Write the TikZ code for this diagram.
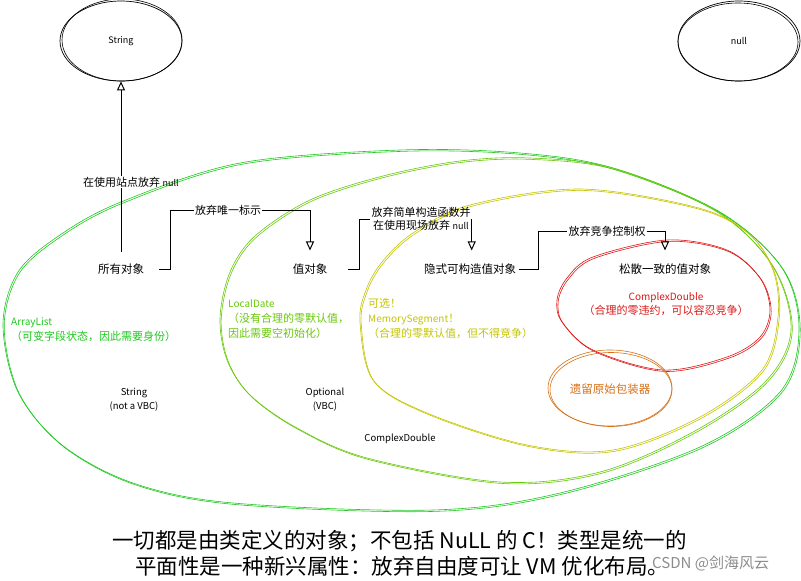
\documentclass[tikz,border=0pt]{standalone}
\usepackage{fontspec}
\setmainfont{Noto Sans CJK SC}
\usetikzlibrary{arrows.meta,shapes.geometric}
\definecolor{gA}{RGB}{30,200,30}
\definecolor{gL}{RGB}{104,200,10}
\definecolor{yM}{RGB}{196,196,0}
\definecolor{rC}{RGB}{222,22,22}
\definecolor{oW}{RGB}{215,112,22}
\newcommand\skcurve[2]{%
  \draw[sk,#1] plot[smooth cycle,tension=0.55] coordinates {#2};
  \draw[sk,#1,shift={(1.2,1.4)}] plot[smooth cycle,tension=0.55] coordinates {#2};}
\begin{document}
\begin{tikzpicture}[x=1pt,y=-1pt,
  sk/.style={line width=0.6pt},
  txt/.style={font=\fontsize{11.5}{13}\selectfont, inner sep=1pt},
  lbl/.style={font=\fontsize{11}{12.5}\selectfont, inner sep=1pt, align=center},
  hw/.style={font=\fontsize{9.5}{14}\selectfont, inner sep=1pt, align=center},
  ctx/.style={font=\fontsize{11}{15}\selectfont, inner sep=1pt, align=left, anchor=west},
  conn/.style={line width=1pt, black},
  arr/.style={conn, -{Triangle[open,length=9pt,width=8pt,line width=1pt]}},
  bub/.style={ellipse, draw, line width=0.7pt, minimum width=122pt, minimum height=80pt, inner sep=0pt, font=\fontsize{9}{11}\selectfont}
]
\useasboundingbox (0,0) rectangle (801,581);

% big regions
\skcurve{gA}{(3,325) (18,272) (60,235) (121,202) (240,163) (400,150) (520,153) (613,168) (720,212) (782,268) (799,330) (780,392) (700,447) (560,493) (433,510) (233,503) (133,483) (62,445) (18,392)}
\skcurve{gL}{(220,318) (230,272) (255,236) (310,200) (383,176) (460,161) (530,158) (613,168) (715,210) (772,265) (791,330) (765,382) (693,432) (600,472) (500,482) (367,458) (297,428) (250,395) (227,360)}
\skcurve{yM}{(360,322) (366,290) (382,262) (413,233) (470,205) (580,189) (695,207) (747,232) (773,270) (778,317) (762,370) (700,417) (613,450) (527,445) (427,413) (373,380)}
\skcurve{rC}{(557,300) (567,278) (593,257) (667,240) (727,250) (760,278) (770,310) (760,337) (727,357) (663,370) (593,350) (562,322)}
\draw[sk,oW] (610,388) ellipse [x radius=62pt, y radius=38pt];
\draw[sk,oW] (611,389.5) ellipse [x radius=61pt, y radius=37pt];

% top bubbles
\node[bub] (strE) at (121,41) {String};
\draw[sk] (122,40) ellipse [x radius=60pt, y radius=41pt];
\node[bub] (nullE) at (739,41) {null};
\draw[sk] (738,42) ellipse [x radius=60pt, y radius=39pt];

% main nodes
\node[txt] (allobj) at (121,269) {所有对象};
\node[txt] (valobj) at (310,269) {值对象};
\node[txt] (implobj) at (470,269) {隐式可构造值对象};
\node[txt] (looseobj) at (665,269) {松散一致的值对象};

% connector labels
\node[lbl] (lab1) at (131,182) {在使用站点放弃 {\fontsize{9}{10}\selectfont null}};
\node[lbl] (lab2) at (228,210) {放弃唯一标示};
\node[lbl] (lab3) at (421,219) {放弃简单构造函数并\\在使用现场放弃 {\fontsize{9}{10}\selectfont null}};
\node[lbl] (lab4) at (607,231) {放弃竞争控制权};

\coordinate (valin) at ([yshift=12pt]valobj.north);
\coordinate (implin) at ([yshift=12pt]implobj.north);
\coordinate (loosein) at ([yshift=12pt]looseobj.north);

% connectors
\draw[conn] ([yshift=10pt]allobj.north) -- (allobj.north |- lab1.south);
\draw[arr] (allobj.north |- lab1.north) -- (strE.south);
\draw[conn] ([xshift=14pt]allobj.east) -- ++(11,0) |- (lab2.west);
\draw[arr] (lab2.east) -| (valin);
\draw[conn] ([xshift=20pt]valobj.east) -- ++(11,0) |- (lab3.west);
\draw[arr] (lab3.east) -- (lab3.east |- implin);
\draw[conn] ([xshift=2pt]implobj.east) -- ++(19,0) |- (lab4.west);
\draw[arr] (lab4.east) -| (loosein);

% region texts
\node[ctx, text=gA] (alT) at (10,330) {\fontsize{10}{15}\selectfont ArrayList\\（可变字段状态，因此需要身份）};
\node[ctx, text=gL] (ldT) at (227,319.5) {\fontsize{10}{15}\selectfont LocalDate\\（没有合理的零默认值，\\因此需要空初始化）};
\node[ctx, text=yM] (msT) at (367,318.5) {可选！\\{\fontsize{10}{15}\selectfont MemorySegment}！\\（合理的零默认值，但不得竞争）};
\node[lbl, text=rC, font=\fontsize{11}{14}\selectfont] (cdT) at (666,304) {{\fontsize{10}{14}\selectfont ComplexDouble}\\（合理的零违约，可以容忍竞争）};
\node[txt, text=oW] (wrap) at (610,389) {遗留原始包装器};

\node[hw] (strT) at (134,400) {String\\(not a VBC)};
\node[hw] (optT) at (325,400) {Optional\\(VBC)};
\node[hw] (cdB) at (400,439) {ComplexDouble};

% bottom text
\node[anchor=west, inner sep=0pt, font=\fontsize{21.5}{24}\selectfont] (b1) at (112,541) {一切都是由类定义的对象；不包括 NuLL 的 C！类型是统一的};
\node[anchor=west, inner sep=0pt, font=\fontsize{21.5}{24}\selectfont] (b2) at (135,566) {平面性是一种新兴属性：放弃自由度可让 VM 优化布局。};
\node[anchor=west, inner sep=0pt, text=black!45, font=\fontsize{15}{17}\selectfont] (wm) at (652,563) {CSDN @剑海风云};
\end{tikzpicture}
\end{document}
